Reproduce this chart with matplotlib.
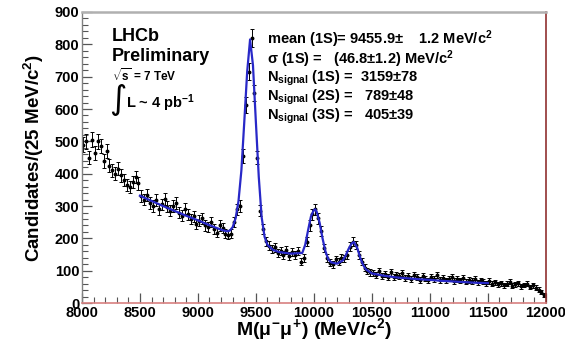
import numpy as np
import matplotlib.pyplot as plt
from matplotlib.ticker import MultipleLocator

plt.rcParams['font.family'] = ['Liberation Sans', 'DejaVu Sans']
plt.rcParams['font.weight'] = 'bold'
plt.rcParams['mathtext.fontset'] = 'custom'
plt.rcParams['mathtext.rm'] = 'Liberation Sans:bold'
plt.rcParams['mathtext.it'] = 'Liberation Sans:bold'
plt.rcParams['mathtext.bf'] = 'Liberation Sans:bold'

# dimuon mass histogram, 25 MeV bins from 8000 to 12000
bin_width = 25
bin_start = 8000
counts = [
    490, 500, 450, 505, 465, 500, 485, 440, 470, 425,
    410, 400, 415, 395, 380, 365, 360, 375, 390, 370,
    330, 320, 335, 310, 300, 318, 290, 305, 322, 298,
    285, 300, 310, 280, 270, 292, 275, 260, 268, 245,
    255, 262, 240, 235, 250, 228, 218, 240, 232, 215,
    212, 215, 250, 290, 300, 455, 612, 715, 820, 650,
    450, 285, 230, 192, 178, 168, 172, 155, 160, 150,
    165, 145, 158, 150, 160, 128, 140, 190, 240, 275,
    290, 262, 222, 170, 140, 125, 120, 135, 128, 140,
    138, 150, 175, 190, 180, 150, 128, 110, 100, 95,
    92, 88, 98, 85, 90, 82, 95, 80, 88, 84,
    92, 78, 85, 75, 88, 80, 72, 84, 76, 70,
    80, 74, 86, 72, 78, 70, 76, 82, 68, 74,
    70, 78, 66, 72, 68, 75, 64, 70, 66, 62,
    68, 60, 64, 58, 62, 55, 60, 66, 54, 58,
    62, 52, 56, 60, 50, 55, 48, 42, 35, 25,
]

# fitted curve (blue line)
fit_mass = [8500, 8600, 8700, 8800, 8900, 9000, 9100, 9200, 9250, 9275,
            9300, 9325, 9350, 9375, 9400, 9425, 9450, 9475, 9500, 9525,
            9550, 9575, 9600, 9650, 9700, 9800, 9900, 9925, 9950, 9975,
            10000, 10012, 10025, 10050, 10075, 10100, 10125, 10150, 10200, 10250,
            10275, 10300, 10325, 10345, 10375, 10400, 10425, 10450, 10500, 10600,
            10700, 10800, 10900, 11000, 11100, 11200, 11300, 11400, 11500]
fit_counts = [332, 316, 300, 285, 270, 256, 241, 227, 222, 224,
              235, 262, 315, 410, 560, 715, 815, 735, 560, 390,
              265, 205, 180, 164, 158, 153, 155, 180, 225, 268,
              288, 290, 282, 248, 200, 160, 135, 126, 122, 132,
              148, 168, 184, 189, 170, 140, 118, 104, 92, 85,
              80, 77, 74, 72, 69, 67, 65, 63, 62]

counts = np.array(counts)
centers = bin_start + bin_width * (np.arange(len(counts)) + 0.5)
errors = np.sqrt(counts)

fig = plt.figure(figsize=(5.65, 3.41), dpi=100)
ax = fig.add_axes([0.145, 0.111, 0.821, 0.854])

ax.errorbar(centers, counts, yerr=errors, fmt='o', color='black', ms=1.8,
            elinewidth=0.7, capsize=1.2, capthick=0.7, zorder=2)
ax.plot(fit_mass, fit_counts, color='#2828c8', lw=1.6, zorder=3)

ax.set_xlim(8000, 12000)
ax.set_ylim(0, 900)
ax.xaxis.set_major_locator(MultipleLocator(500))
ax.xaxis.set_minor_locator(MultipleLocator(100))
ax.yaxis.set_major_locator(MultipleLocator(100))
ax.yaxis.set_minor_locator(MultipleLocator(20))
ax.tick_params(which='both', direction='in', labelsize=10.5, pad=2, color='#555555')
ax.tick_params(which='major', length=7, width=0.9)
ax.tick_params(which='minor', length=4, width=0.8)
ax.tick_params(axis='x', pad=2)
for lab in ax.get_xticklabels() + ax.get_yticklabels():
    lab.set_fontweight('bold')

ax.spines['top'].set_color('#b0b0b0')
ax.spines['top'].set_linewidth(1.8)
ax.spines['left'].set_color('#808080')
ax.spines['left'].set_linewidth(1.0)
ax.spines['right'].set_color('#903030')
ax.spines['right'].set_linewidth(1.2)
ax.spines['bottom'].set_color('#d88080')
ax.spines['bottom'].set_linewidth(1.2)

ax.set_xlabel(r'M($\mu^{-}\mu^{+}$) (MeV/c$^{2}$)', fontsize=14, fontweight='bold', labelpad=-3)
ax.set_ylabel(r'Candidates/(25 MeV/c$^{2}$)', fontsize=13.5, fontweight='bold', labelpad=6)

# LHCb label
ax.text(0.065, 0.945, 'LHCb', transform=ax.transAxes, fontsize=13, fontweight='bold', va='top')
ax.text(0.065, 0.875, 'Preliminary', transform=ax.transAxes, fontsize=13, fontweight='bold', va='top')
ax.text(0.065, 0.81, r'$\sqrt{\mathrm{s}}$ = 7 TeV', transform=ax.transAxes, fontsize=8.5, fontweight='bold', va='top')
ax.text(0.058, 0.755, '\u222b', transform=ax.transAxes, fontsize=24, fontweight='normal',
        va='top', family='DejaVu Sans')
ax.text(0.095, 0.725, r'L ~ 4 pb$^{-1}$', transform=ax.transAxes, fontsize=10.5, fontweight='bold', va='top')

# fit results
stats = [
    r'mean (1S)= 9455.9$\pm$    1.2 MeV/c$^{2}$',
    r'$\sigma$ (1S) =   (46.8$\pm$1.2) MeV/c$^{2}$',
    r'N$_{\mathrm{signal}}$ (1S) =  3159$\pm$78',
    r'N$_{\mathrm{signal}}$ (2S) =   789$\pm$48',
    r'N$_{\mathrm{signal}}$ (3S) =   405$\pm$39',
]
y0 = 0.905
for i, line in enumerate(stats):
    ax.text(0.4, y0 - i * 0.066, line, transform=ax.transAxes, fontsize=10.5,
            fontweight='bold', va='center')

fig.savefig('out.png', dpi=100)
